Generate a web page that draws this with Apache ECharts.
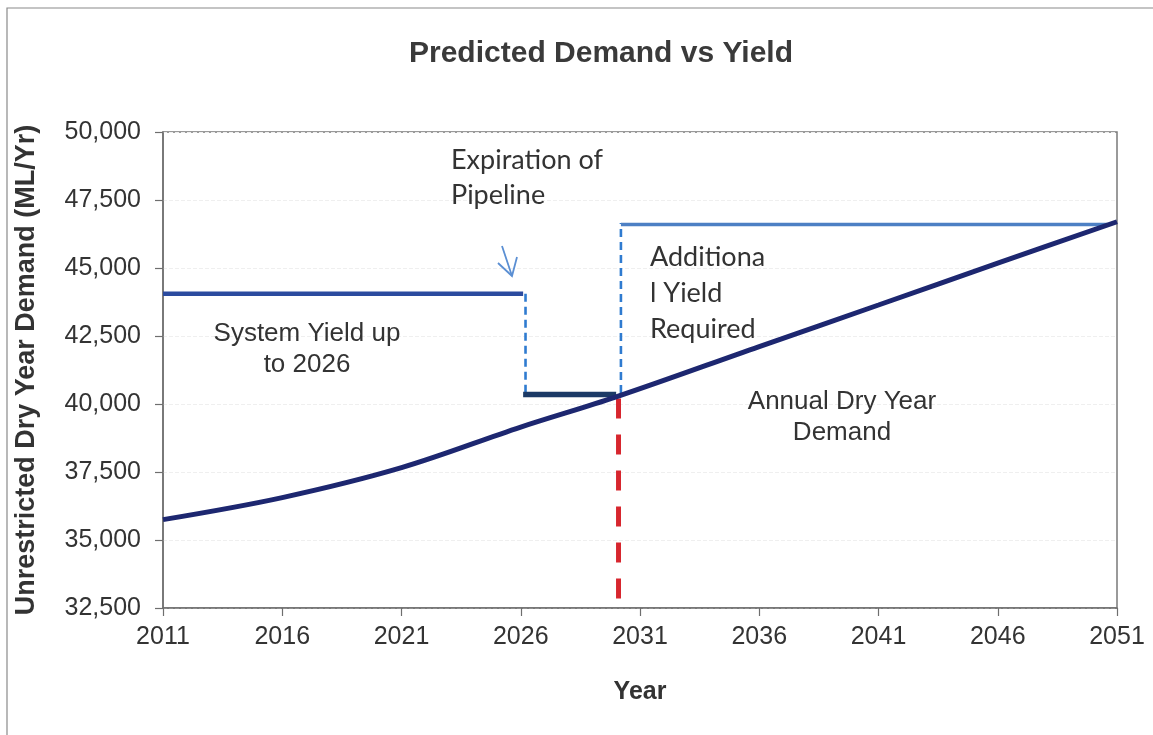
<!DOCTYPE html>
<html>
<head>
<meta charset="utf-8">
<script src="https://cdn.jsdelivr.net/npm/echarts@6/dist/echarts.min.js"></script>
<style>
  html, body { margin: 0; padding: 0; background: #fff; }
  #chart { width: 1153px; height: 735px; }
</style>
</head>
<body>
<div id="chart"></div>
<script>
// ---- data ----
const xTickYears = [2011, 2016, 2021, 2026, 2031, 2036, 2041, 2046, 2051];
const yTickValues = [32500, 35000, 37500, 40000, 42500, 45000, 47500, 50000];

const demandYears  = [2011, 2016, 2021, 2026, 2030, 2036, 2041, 2046, 2051];
const demandValues = [35750, 36560, 37660, 39150, 40260, 42110, 43640, 45180, 46700];

const systemYieldYears  = [2011, 2026.1];
const systemYieldValues = [44050, 44050];

const interimYieldYears  = [2026.1, 2030.0];
const interimYieldValues = [40350, 40350];

const additionalYieldYears  = [2030.2, 2050.6];
const additionalYieldValues = [46600, 46600];

const pipelineDropYears  = [2026.2, 2026.2];
const pipelineDropValues = [44050, 40300];

const additionalRiseYears  = [2030.2, 2030.2];
const additionalRiseValues = [40400, 46650];

const shortfallYears  = [2030.1, 2030.1];
const shortfallValues = [40200, 32500];

function pairs(xs, ys) { return xs.map((x, i) => [x, ys[i]]); }

const chart = echarts.init(document.getElementById('chart'), null, { renderer: 'canvas' });

const sansFont = "'Liberation Sans', Arial, sans-serif";
const textColor = '#333333';

const option = {
  backgroundColor: '#ffffff',
  animation: false,
  grid: {
    left: 163, right: 36, top: 132, bottom: 127,
    show: true, borderColor: '#7a7a7a', borderWidth: 1.5,
    backgroundColor: 'transparent'
  },
  xAxis: {
    type: 'value',
    min: xTickYears[0],
    max: xTickYears[xTickYears.length - 1],
    interval: 5,
    name: 'Year',
    nameLocation: 'middle',
    nameGap: 72,
    nameTextStyle: { fontFamily: sansFont, fontSize: 25, fontWeight: 'bold', color: textColor },
    axisLine: { show: true, lineStyle: { color: '#6e6e6e', width: 1.5 } },
    axisTick: { show: true, length: 8, lineStyle: { color: '#6e6e6e', width: 1.2 } },
    axisLabel: {
      margin: 17, fontFamily: sansFont, fontSize: 25, color: textColor,
      formatter: v => String(v)
    },
    splitLine: { show: false }
  },
  yAxis: {
    type: 'value',
    min: yTickValues[0],
    max: yTickValues[yTickValues.length - 1],
    interval: 2500,
    name: 'Unrestricted Dry Year Demand (ML/Yr)',
    nameLocation: 'middle',
    nameGap: 123,
    nameRotate: 90,
    nameTextStyle: { fontFamily: sansFont, fontSize: 27, fontWeight: 'bold', color: textColor },
    axisLine: { show: true, lineStyle: { color: '#6e6e6e', width: 1.5 } },
    axisTick: { show: true, length: 8, lineStyle: { color: '#6e6e6e', width: 1.2 } },
    axisLabel: {
      margin: 22, fontFamily: sansFont, fontSize: 25, color: textColor,
      formatter: v => v.toLocaleString('en-US')
    },
    splitLine: { show: true, lineStyle: { color: '#efefef', type: 'dashed', width: 1 } }
  },
  series: [
    {
      name: 'Shortfall marker', type: 'line', data: pairs(shortfallYears, shortfallValues),
      symbol: 'none', z: 2,
      lineStyle: { color: '#d7262e', width: 5, type: [20, 16] }
    },
    {
      name: 'Pipeline expiry', type: 'line', data: pairs(pipelineDropYears, pipelineDropValues),
      symbol: 'none', z: 3,
      lineStyle: { color: '#2f7bd0', width: 2.6, type: [8, 5] }
    },
    {
      name: 'Additional rise', type: 'line', data: pairs(additionalRiseYears, additionalRiseValues),
      symbol: 'none', z: 3,
      lineStyle: { color: '#2f7bd0', width: 2.6, type: [8, 5] }
    },
    {
      name: 'System Yield', type: 'line', data: pairs(systemYieldYears, systemYieldValues),
      symbol: 'none', z: 4,
      lineStyle: { color: '#2b4b9f', width: 4.5 }
    },
    {
      name: 'Interim Yield', type: 'line', data: pairs(interimYieldYears, interimYieldValues),
      symbol: 'none', z: 4,
      lineStyle: { color: '#1c3a66', width: 5.5 }
    },
    {
      name: 'Additional Yield', type: 'line', data: pairs(additionalYieldYears, additionalYieldValues),
      symbol: 'none', z: 4,
      lineStyle: { color: '#4d80c4', width: 3.5 }
    },
    {
      name: 'Annual Dry Year Demand', type: 'line', data: pairs(demandYears, demandValues),
      symbol: 'none', smooth: 0.35, z: 5,
      lineStyle: { color: '#1d2770', width: 5 }
    }
  ],
  graphic: [
    { type: 'rect', silent: true, z: -10,
      shape: { x: 7, y: 8, width: 1160, height: 760 },
      style: { fill: 'none', stroke: '#8a8a8a', lineWidth: 1.2 } },
    { type: 'text', x: 601, y: 54, silent: true, z: 100,
      style: { text: 'Predicted Demand vs Yield', font: "bold 30px 'Liberation Sans', Arial, sans-serif",
               fill: '#3a3a3a', textAlign: 'center', textVerticalAlign: 'middle' } },
    { type: 'text', x: 307, top: 318, silent: true, z: 100,
      style: { text: 'System Yield up\nto 2026', font: "26px 'Liberation Sans', Arial, sans-serif",
               fill: textColor, textAlign: 'center', lineHeight: 31 } },
    { type: 'text', x: 842, top: 386, silent: true, z: 100,
      style: { text: 'Annual Dry Year\nDemand', font: "26px 'Liberation Sans', Arial, sans-serif",
               fill: textColor, textAlign: 'center', lineHeight: 31 } },
    { type: 'text', left: 451, top: 143, silent: true, z: 100,
      style: { text: 'Expiration of\nPipeline', font: "27px Lato, 'Open Sans', sans-serif",
               fill: textColor, lineHeight: 35 } },
    { type: 'text', left: 650, top: 239, silent: true, z: 100,
      style: { text: 'Additiona\nl Yield\nRequired', font: "27px Lato, 'Open Sans', sans-serif",
               fill: textColor, lineHeight: 36 } },
    { type: 'polyline', silent: true, z: 100,
      shape: { points: [[502, 246], [512, 276]] },
      style: { stroke: '#5b8fd3', lineWidth: 1.8, fill: 'none' } },
    { type: 'polyline', silent: true, z: 100,
      shape: { points: [[498, 263], [512, 276], [517, 257]] },
      style: { stroke: '#5b8fd3', lineWidth: 1.8, fill: 'none' } }
  ]
};

chart.setOption(option);
</script>
</body>
</html>
